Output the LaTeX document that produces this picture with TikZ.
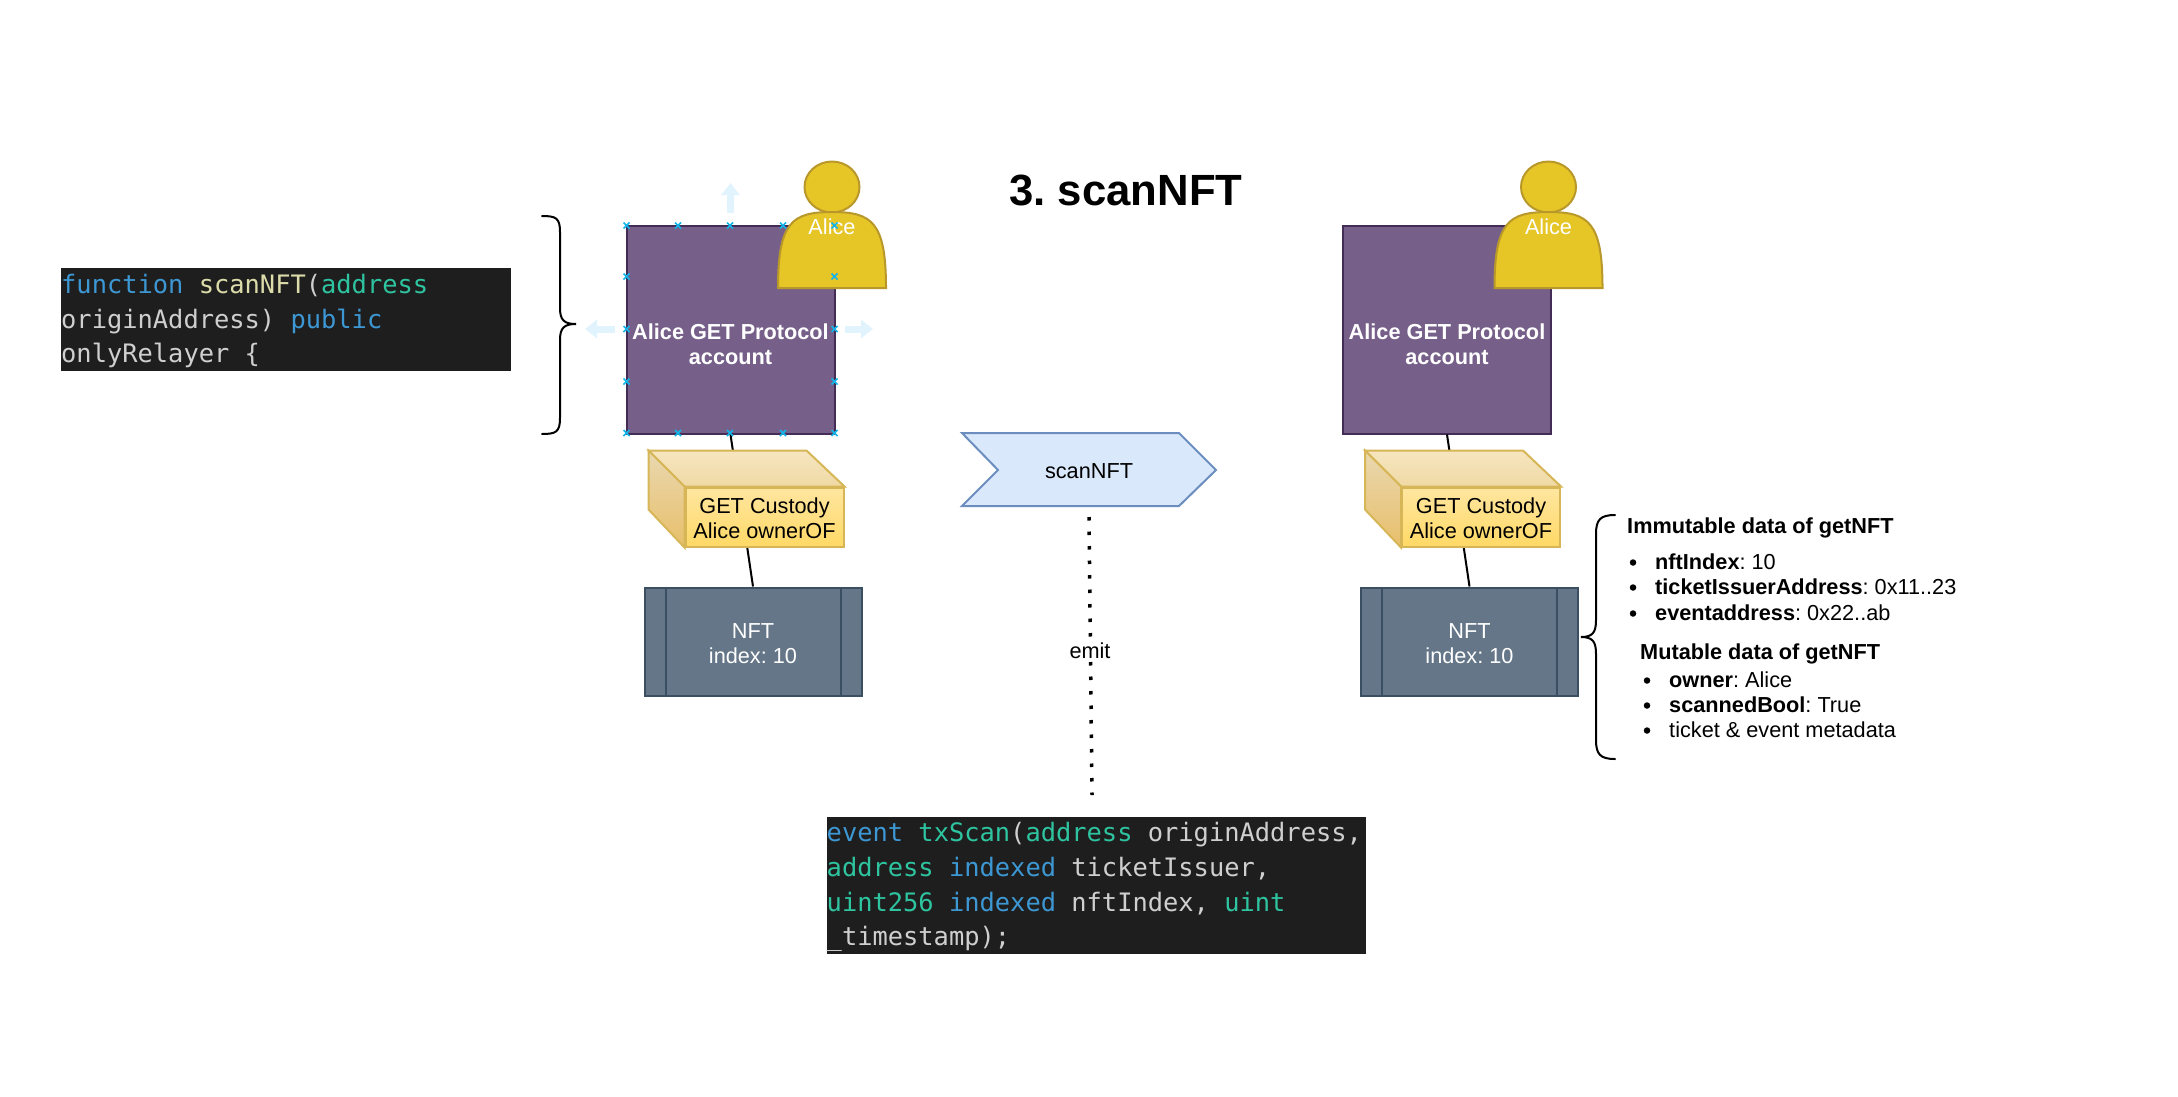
\documentclass[tikz,border=0pt]{standalone}
\usepackage{fontspec}
\setmainfont{Liberation Sans}
\newfontfamily\codefont{DejaVu Sans Mono}
\usepackage{xcolor}
\usepackage{tikz}
\usetikzlibrary{arrows.meta,positioning}
\definecolor{acctfill}{HTML}{76608A}
\definecolor{acctline}{HTML}{432D57}
\definecolor{personfill}{HTML}{E6C527}
\definecolor{personline}{HTML}{B8982A}
\definecolor{nftfill}{HTML}{647687}
\definecolor{nftline}{HTML}{3B4F63}
\definecolor{boxline}{HTML}{D6B656}
\definecolor{frontA}{HTML}{FFE6A0}
\definecolor{frontB}{HTML}{FFD966}
\definecolor{topA}{HTML}{F6E5C0}
\definecolor{topB}{HTML}{EFD9A4}
\definecolor{sideA}{HTML}{E9D8B0}
\definecolor{sideB}{HTML}{E8BF6A}
\definecolor{scanfill}{HTML}{DAE8FC}
\definecolor{scanline}{HTML}{6C8EBF}
\definecolor{hoverblue}{HTML}{E1F3FD}
\definecolor{crossblue}{HTML}{12B5EA}
\definecolor{codebg}{HTML}{1E1E1E}
\definecolor{codeblue}{HTML}{3D97D3}
\definecolor{codegreen}{HTML}{2EC4A0}
\definecolor{codeyellow}{HTML}{DCDCAA}
\definecolor{codegrey}{HTML}{CFCFCF}
\newcommand{\kwd}[1]{\textcolor{codeblue}{#1}}
\newcommand{\typ}[1]{\textcolor{codegreen}{#1}}
\newcommand{\fnc}[1]{\textcolor{codeyellow}{#1}}
\newcommand{\dropline}[1]{\rule{0pt}{#1pt}}
\tikzset{
  label22/.style={font=\frenchspacing\fontsize{21.7}{25}\selectfont,align=flush center,inner sep=0pt},
  acctbox/.style={label22,draw=acctline,fill=acctfill,line width=2pt,text=white,minimum width=208pt,minimum height=208pt},
  custodybox/.style={label22,draw=boxline,line width=2pt,top color=frontA,bottom color=frontB,minimum width=158pt,minimum height=59pt},
  nftbox/.style={label22,draw=nftline,fill=nftfill,line width=2pt,text=white,minimum width=217pt,minimum height=108pt},
  codebox/.style={fill=codebg,text=codegrey,anchor=north west,inner sep=0pt,align=flush left,font=\codefont\fontsize{25.4}{34.7}\selectfont},
  listtext/.style={font=\frenchspacing\fontsize{21.7}{25}\selectfont,anchor=base west,inner sep=0pt},
  bulletdot/.style={circle,fill=black,inner sep=0pt,minimum size=6.5pt},
  hover/.style={hoverblue,line width=7pt,-{Triangle[length=12pt,width=18pt]}},
  mark cross/.style={crossblue,line width=1.5pt},
  curly/.style={line width=2pt,line cap=round},
  link/.style={line width=2pt},
}
\begin{document}
\begin{tikzpicture}[x=1pt,y=-1pt]
  \useasboundingbox (0,0) rectangle (2178,1096);
  % account, custody box, nft and person, left and right copy
  \foreach \side/\dx in {l/0,r/716.5} {
    \begin{scope}[xshift=\dx pt]
      \node[acctbox] (acct\side) at (730.5,329.5) {\dropline{46}\textbf{Alice GET Protocol}\\\textbf{account}};
      \node[nftbox] (nft\side) at (753,641.5) {\dropline{19}NFT\\index: 10};
      \draw[link] (acct\side.south) -- (nft\side.north);
      \draw[nftline,line width=2pt] ([xshift=22pt]nft\side.north west) -- ([xshift=22pt]nft\side.south west);
      \draw[nftline,line width=2pt] ([xshift=-22pt]nft\side.north east) -- ([xshift=-22pt]nft\side.south east);
      \node[custodybox] (custody\side) at (764.5,517) {\dropline{18.6}GET Custody\\Alice ownerOF};
      \shade[draw=boxline,line width=2pt,top color=topA,bottom color=topB] (custody\side.north west) -- ++(-36,-36) -- ++(158,0) -- (custody\side.north east) -- cycle;
      \shade[draw=boxline,line width=2pt,top color=sideA,bottom color=sideB] (custody\side.north west) -- ++(-36,-36) -- ++(0,59) -- (custody\side.south west) -- cycle;
      % person
      \filldraw[personfill,draw=personline,line width=2pt] (832,187) ellipse (27.5 and 25.5);
      \filldraw[personfill,draw=personline,line width=2pt] (778,288) .. controls (778,222) and (792,212) .. (832,212) .. controls (872,212) and (886,222) .. (886,288) -- cycle;
      \node[label22,text=white] (person\side) at (832,226.5) {Alice};
    \end{scope}
  }
  % hover arrows and markers of the left account
  \draw[hover] (730.5,213) -- (730.5,183);
  \draw[hover] (615,329) -- (585,329);
  \draw[hover] (845,329) -- (873,329);
  \foreach \cx/\cy in {626.5/225.5,678/225.5,730/225.5,783/225.5,834.5/225.5,
                       626.5/276.5,834.5/276.5,626.5/329,834.5/329,626.5/381.5,834.5/381.5,
                       626.5/433,678/433,730/433,783/433,834.5/433}
    \draw[mark cross] (\cx,\cy) +(-3,-3) -- +(3,3) +(-3,3) -- +(3,-3);
  % braces
  \draw[curly] (542,216) .. controls (556,216) and (560,218) .. (560,232) -- (560,308) .. controls (560,320) and (564,324) .. (576,324) .. controls (564,324) and (560,328) .. (560,340) -- (560,418) .. controls (560,432) and (556,434) .. (542,434);
  \draw[curly] (1615,515) .. controls (1600,515) and (1596,520) .. (1596,534) -- (1596,620) .. controls (1596,632) and (1593,637) .. (1581,637) .. controls (1593,637) and (1596,642) .. (1596,654) -- (1596,740) .. controls (1596,754) and (1600,759) .. (1615,759);
  % title
  \node[font=\frenchspacing\bfseries\fontsize{43.7}{50}\selectfont,inner sep=0pt] (title) at (1126,190) {3. scanNFT};
  % scan arrow and emit line
  \filldraw[fill=scanfill,draw=scanline,line width=2pt] (962,433) -- (1179,433) -- (1216,470) -- (1179,506) -- (962,506) -- (998,470) -- cycle;
  \node[label22] (scan) at (1089,470.5) {\dropline{16.5}scanNFT};
  % code boxes
  \node[codebox,minimum width=450pt,minimum height=103pt,text width=450pt] (codefn) at (61,268)
    {\dropline{22}\kwd{function} \fnc{scanNFT}(\typ{address}\\originAddress) \kwd{public}\\onlyRelayer \{};
  \node[codebox,minimum width=539pt,minimum height=137pt,text width=539pt] (codeevt) at (826.5,817)
    {\dropline{22}\kwd{event} \typ{txScan}(\typ{address} originAddress,\\\typ{address} \kwd{indexed} ticketIssuer,\\\typ{uint256} \kwd{indexed} nftIndex, \typ{uint}\\\_timestamp);};
  \coordinate (dotsa) at (1089,517);
  \coordinate (dotsb) at (1092,795);
  \draw[line width=3.5pt,dash pattern=on 3.5pt off 11pt] (dotsa) -- (dotsb);
  \node[label22,fill=white,text height=17pt,text depth=3pt] (emit) at (1090,651) {emit};
  % lists
  \node[listtext] (immut) at (1627,533) {\textbf{Immutable data of getNFT}};
  \foreach \ny/\ytxt/\txt in {a/569/{\textbf{nftIndex}: 10},b/594/{\textbf{ticketIssuerAddress}: 0x11..23},c/620/{\textbf{eventaddress}: 0x22..ab}} {
    \node[bulletdot] (bul\ny) at (1633,\ytxt-6.5) {};
    \node[listtext] (imm\ny) at (1655,\ytxt) {\txt};
  }
  \node[listtext] (mut) at (1640,659) {\textbf{Mutable data of getNFT}};
  \foreach \ny/\ytxt/\txt in {a/687/{\textbf{owner}: Alice},b/712/{\textbf{scannedBool}: True},c/737/{ticket \& event metadata}} {
    \node[bulletdot] (mbul\ny) at (1647,\ytxt-6.5) {};
    \node[listtext] (mut\ny) at (1669,\ytxt) {\txt};
  }
\end{tikzpicture}
\end{document}
